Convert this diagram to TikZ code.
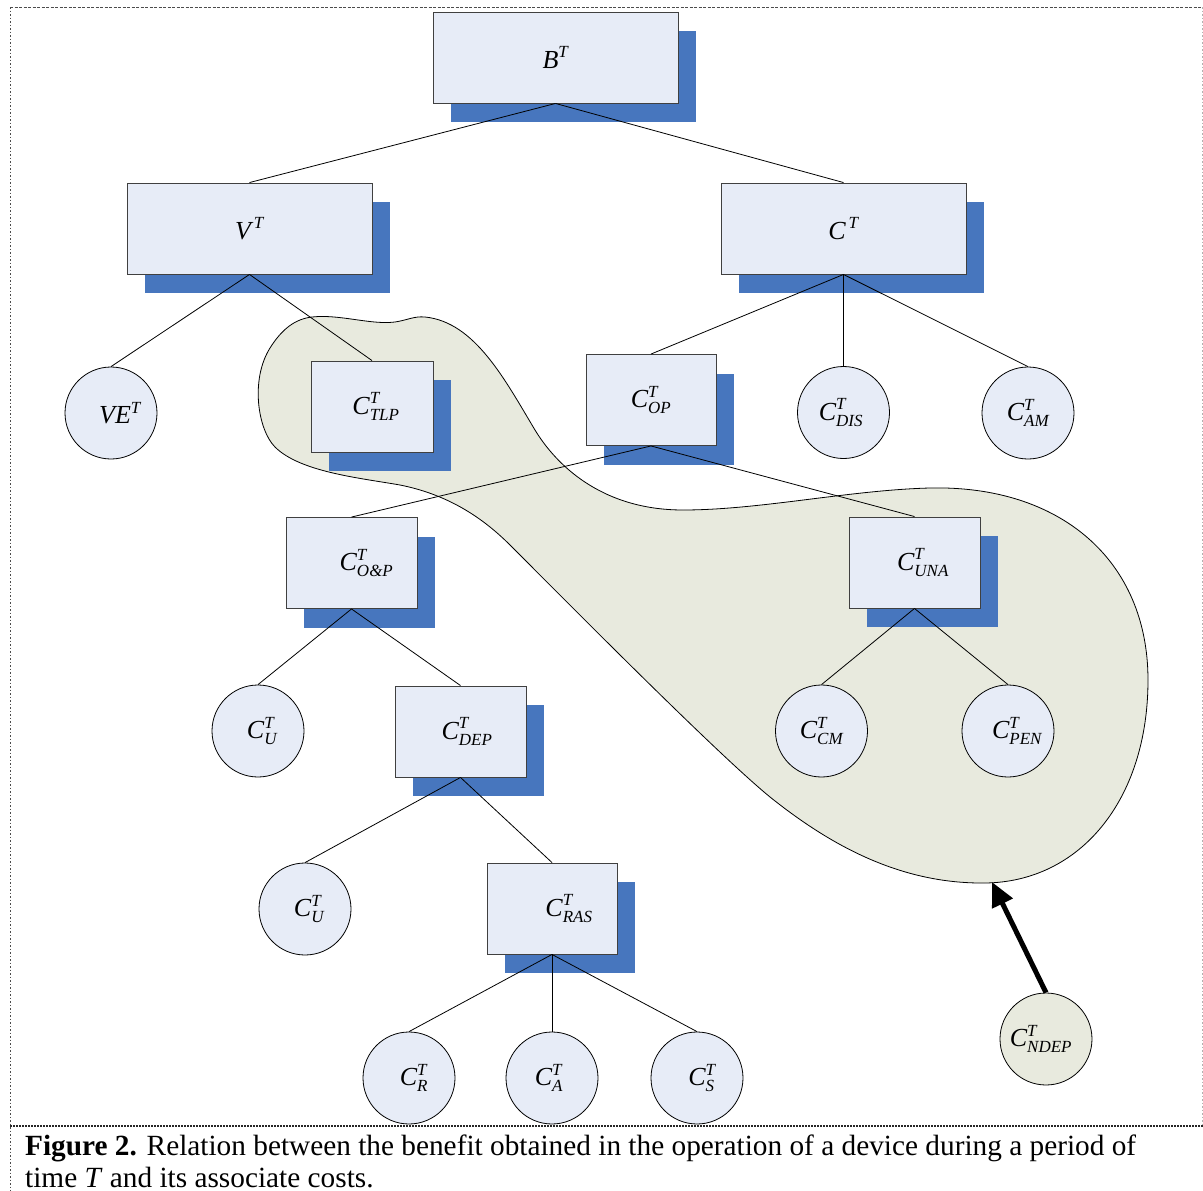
\documentclass[tikz,border=0pt]{standalone}
\usepackage{amsmath}
\usepackage{fontspec}
\setmainfont{Liberation Serif}
\usetikzlibrary{shadows,arrows.meta}
\DeclareMathSizes{26}{26}{17}{12}
\definecolor{boxfill}{RGB}{231,236,247}
\definecolor{blobfill}{RGB}{232,234,222}
\definecolor{shadowblue}{RGB}{71,118,190}
\newcommand{\lab}[3][0pt]{\hspace*{#1}$\textit{#2}^{\textit{T}}_{\textit{#3}}$}
\newcommand{\lblfont}{\fontsize{26}{30}\selectfont}
\tikzset{
  box/.style={draw=black!75, line width=0.9pt, fill=boxfill, minimum height=91pt, minimum width=#1, inner sep=0pt,
    general shadow={fill=shadowblue, shadow xshift=18pt, shadow yshift=-19pt}, font=\lblfont},
  circ/.style={circle, draw=black, line width=0.8pt, fill=boxfill, minimum size=92pt, inner sep=0pt, font=\lblfont},
  edge/.style={draw=black, line width=0.8pt},
  capfont/.style={font=\fontsize{29.3}{34}\selectfont, inner sep=0pt}
}
\begin{document}
\begin{tikzpicture}[x=1pt,y=-1pt]
\useasboundingbox (0,0) rectangle (1203,1191);
% frame
\draw[black!70, line width=1pt, dash pattern=on 3pt off 1.5pt] (10,7) -- (1203,7);
\draw[black!70, line width=1pt, dash pattern=on 1.5pt off 2pt] (10,7) -- (10,1191);
\draw[black!30, line width=0.8pt, dash pattern=on 1.5pt off 2pt] (1202,7) -- (1202,1126);
\draw[black!85, line width=2pt, dash pattern=on 2pt off 1pt] (10,1126) -- (1203,1126);
% blob
\draw[fill=blobfill, line width=0.8pt]
  (312,317) .. controls (340,314) and (370,325) .. (395,322)
  .. controls (408,320) and (414,316) .. (425,317)
  .. controls (475,322) and (505,380) .. (535,430)
  .. controls (555,463) and (600,510) .. (683,510)
  .. controls (760,510) and (850,490) .. (930,488)
  .. controls (1060,485) and (1148,560) .. (1148,680)
  .. controls (1148,800) and (1080,882) .. (985,883)
  .. controls (900,884) and (830,845) .. (770,797)
  .. controls (715,752) and (560,595) .. (510,545)
  .. controls (480,515) and (445,494) .. (400,485)
  .. controls (360,478) and (300,472) .. (275,447)
  .. controls (258,430) and (250,380) .. (270,348)
  .. controls (282,329) and (295,319) .. cycle;
\coordinate (tip) at (992,882);
% boxes
\node[box=245pt] (B) at (555.5,57.5) {$\textit{B}^{\textit{T}}$};
\node[box=245pt] (V) at (249.5,228.5) {$\textit{V}^{\,\textit{T}}$};
\node[box=245pt] (C) at (843.5,228.5) {$\textit{C}^{\,\textit{T}}$};
\node[box=122pt] (TLP) at (372,406.5) {\lab[8pt]{C}{TLP}};
\node[box=130pt] (OP) at (651,400) {\lab{C}{OP}};
\node[box=131pt] (OnP) at (351.5,563) {\lab[30pt]{C}{O\&P}};
\node[box=131pt] (DEP) at (460.5,731.5) {\lab[13pt]{C}{DEP}};
\node[box=131pt] (UNA) at (914.5,562.5) {\lab[17pt]{C}{UNA}};
\node[box=130pt] (RAS) at (552,908.5) {\lab[34pt]{C}{RAS}};
% circles
\node[circ] (VE) at (111,413) {\hspace*{18pt}$\textit{VE}^{\textit{T}}$};
\node[circ] (DIS) at (843.5,412.5) {\lab[-5pt]{C}{DIS}};
\node[circ] (AM) at (1028,413) {\lab{C}{AM}};
\node[circ] (U1) at (258,731) {\lab[8pt]{C}{U}};
\node[circ] (CM) at (821.5,731) {\lab{C}{CM}};
\node[circ] (PEN) at (1008,731) {\lab[18pt]{C}{PEN}};
\node[circ] (U2) at (305,909) {\lab[8pt]{C}{U}};
\node[circ] (R) at (409,1078) {\lab[10pt]{C}{R}};
\node[circ] (A) at (552,1078) {\lab[-6pt]{C}{A}};
\node[circ] (S) at (697,1078) {\lab[10pt]{C}{S}};
\node[circ, fill=blobfill] (NDEP) at (1046,1039) {\lab[-10pt]{C}{NDEP}};
% edges
\draw[edge] (B.south) -- (V.north);
\draw[edge] (B.south) -- (C.north);
\draw[edge] (V.south) -- (VE.north);
\draw[edge] (V.south) -- (TLP.north);
\draw[edge] (C.south) -- (OP.north);
\draw[edge] (C.south) -- (DIS.north);
\draw[edge] (C.south) -- (AM.north);
\draw[edge] (OP.south) -- (OnP.north);
\draw[edge] (OP.south) -- (UNA.north);
\draw[edge] (OnP.south) -- (U1.north);
\draw[edge] (OnP.south) -- (DEP.north);
\draw[edge] (DEP.south) -- (U2.north);
\draw[edge] (DEP.south) -- (RAS.north);
\draw[edge] (RAS.south) -- (R.north);
\draw[edge] (RAS.south) -- (A.north);
\draw[edge] (RAS.south) -- (S.north);
\draw[edge] (UNA.south) -- (CM.north);
\draw[edge] (UNA.south) -- (PEN.north);
% arrow
\draw[line width=5pt, -{Triangle[length=24pt,width=22pt]}] (NDEP.north) -- (tip);
% caption
\node[capfont, anchor=base west] (cap1) at (25,1155) {\textbf{Figure 2.} Relation between the benefit obtained in the operation of a device during a period of};
\node[capfont, anchor=base west] (cap2) at (25,1187) {time \textit{T} and its associate costs.};
\end{tikzpicture}
\end{document}
